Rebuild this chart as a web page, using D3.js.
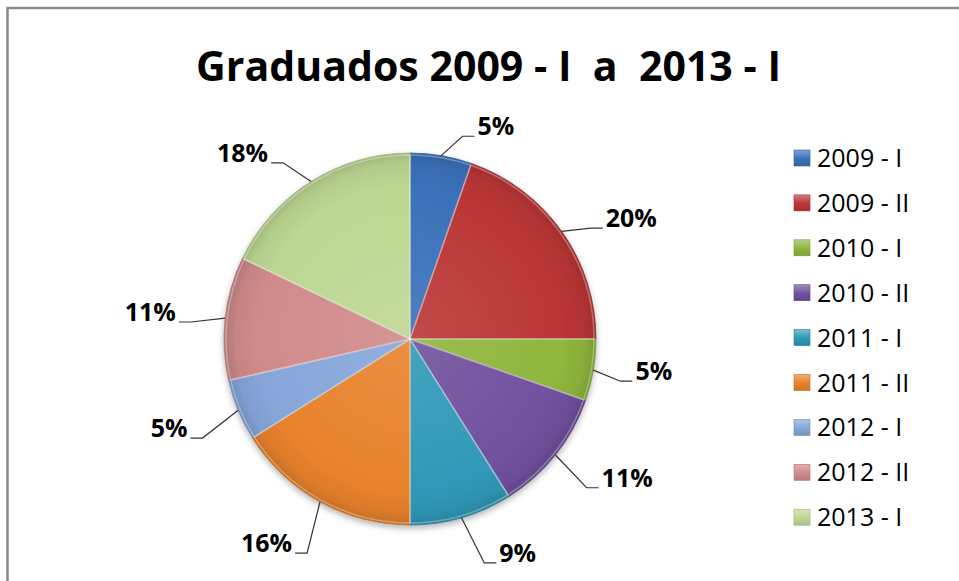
<!DOCTYPE html>
<html>
<head>
<meta charset="utf-8">
<script src="https://cdn.jsdelivr.net/npm/d3@7"></script>
<style>
  html, body { margin: 0; padding: 0; background: #fff; }
  svg { display: block; }
</style>
</head>
<body>
<svg id="chart" width="959" height="581"></svg>
<script>
// ---- data ----
const categories = ["2009 - I", "2009 - II", "2010 - I", "2010 - II", "2011 - I", "2011 - II", "2012 - I", "2012 - II", "2013 - I"];
const values = [3, 11, 3, 6, 5, 9, 3, 6, 10];
const colors = ["#3b71ba", "#bb3636", "#8fb63d", "#71509d", "#3099b8", "#e8822c", "#86a6da", "#d08a8a", "#bdd792"];
const titleText = "Graduados 2009 - I  a  2013 - I";

// ---- layout (label placement relative to each slice's mid-angle) ----
const labelAngleNudge = [12.4, 6.8, -2, -5.9, -10.6, 6.1, 2.1, -0.6, -9.9];
const labelRadius = [229, 252, 246, 258, 240, 250, 257, 261, 250];

const W = 959, H = 581;
const cx = 410, cy = 339, R = 186;
const svg = d3.select("#chart");
const defs = svg.append("defs");

// frame
svg.append("rect").attr("x", 7.5).attr("y", 8).attr("width", W).attr("height", H)
  .attr("fill", "#fff").attr("stroke", "#8a8a8a").attr("stroke-width", 2.5);

// title
svg.append("text").attr("x", 488.5).attr("y", 81)
  .attr("text-anchor", "middle")
  .attr("font-family", "'Open Sans', sans-serif").attr("font-weight", 700)
  .attr("font-size", 42).attr("fill", "#000")
  .attr("textLength", 585).attr("lengthAdjust", "spacingAndGlyphs")
  .style("white-space", "pre")
  .text(titleText);

// filters / gradients
const shadow = defs.append("filter").attr("id", "shadow")
  .attr("color-interpolation-filters", "sRGB")
  .attr("x", "-20%").attr("y", "-20%").attr("width", "140%").attr("height", "140%");
shadow.append("feGaussianBlur").attr("in", "SourceAlpha").attr("stdDeviation", 3).attr("result", "b");
shadow.append("feOffset").attr("in", "b").attr("dy", 3).attr("result", "o");
shadow.append("feComponentTransfer").attr("in", "o").attr("result", "s")
  .append("feFuncA").attr("type", "linear").attr("slope", 0.3);
const merge = shadow.append("feMerge");
merge.append("feMergeNode").attr("in", "s");
merge.append("feMergeNode").attr("in", "SourceGraphic");

colors.forEach((c, i) => {
  const base = d3.color(c);
  // pie paths live in a group translated to the pie centre, so the gradient centre is 0,0
  const g = defs.append("radialGradient").attr("id", "g" + i)
    .attr("gradientUnits", "userSpaceOnUse")
    .attr("cx", 0).attr("cy", 0).attr("r", R);
  g.append("stop").attr("offset", "0%").attr("stop-color", d3.interpolateRgb(c, "#fff")(0.1));
  g.append("stop").attr("offset", "82%").attr("stop-color", c);
  g.append("stop").attr("offset", "94%").attr("stop-color", base.darker(0.15));
  g.append("stop").attr("offset", "100%").attr("stop-color", base.darker(0.45));
  const lg = defs.append("linearGradient").attr("id", "lg" + i)
    .attr("x1", 0).attr("y1", 0).attr("x2", 0).attr("y2", 1);
  lg.append("stop").attr("offset", "0%").attr("stop-color", d3.interpolateRgb(c, "#fff")(0.35));
  lg.append("stop").attr("offset", "55%").attr("stop-color", c);
  lg.append("stop").attr("offset", "100%").attr("stop-color", base.darker(0.35));
});

// pie
const total = d3.sum(values);
const pie = d3.pie().sort(null).value(d => d);
const arcs = pie(values);
const arc = d3.arc().innerRadius(0).outerRadius(R);

const gPie = svg.append("g").attr("transform", `translate(${cx},${cy})`);
gPie.append("g").attr("filter", "url(#shadow)")
  .selectAll("path").data(arcs).join("path")
  .attr("d", arc)
  .attr("fill", (d, i) => `url(#g${i})`)
  .attr("stroke", (d, i) => d3.color(colors[i]).darker(0.4))
  .attr("stroke-width", 0.8);
// bevel highlight along inner edges
gPie.append("g").selectAll("path").data(arcs).join("path")
  .attr("d", d3.arc().innerRadius(0).outerRadius(R - 2))
  .attr("fill", "none")
  .attr("stroke", "#fff").attr("stroke-opacity", 0.3).attr("stroke-width", 1.5);

// labels + leader lines
const gLab = svg.append("g");
arcs.forEach((d, i) => {
  const mid = (d.startAngle + d.endAngle) / 2;
  const la = mid + labelAngleNudge[i] * Math.PI / 180;
  const lx = cx + labelRadius[i] * Math.sin(la);
  const ly = cy - labelRadius[i] * Math.cos(la);
  const baseline = ly + 8.5;
  const t = gLab.append("text")
    .attr("x", lx).attr("y", baseline)
    .attr("text-anchor", "middle")
    .attr("font-family", "'Open Sans', sans-serif").attr("font-weight", 700)
    .attr("font-size", 25).attr("fill", "#000")
    .text(Math.round(d.value / total * 100) + "%");
  const w = t.node().getComputedTextLength();
  const ex = cx + R * Math.sin(mid), ey = cy - R * Math.cos(mid);
  const right = lx > cx;
  const ax = right ? lx - w / 2 - 3 : lx + w / 2 + 3;
  const ay = baseline + 1;
  const bx = right ? ax - 12 : ax + 12;
  gLab.append("path")
    .attr("d", d3.line()([[ex, ey], [bx, ay], [ax, ay]]))
    .attr("fill", "none").attr("stroke", "#333").attr("stroke-width", 1.2);
});

// legend
const legY0 = 158, legStep = 44.9;
const leg = svg.append("g");
categories.forEach((c, i) => {
  const y = legY0 + i * legStep;
  leg.append("rect").attr("x", 794).attr("y", y - 8).attr("width", 16).attr("height", 16)
    .attr("fill", `url(#lg${i})`).attr("stroke", d3.color(colors[i]).darker(0.5)).attr("stroke-width", 0.6);
  leg.append("text").attr("x", 817).attr("y", y + 9)
    .attr("font-family", "'Open Sans', sans-serif").attr("font-size", 25).attr("fill", "#000")
    .text(c);
});
</script>
</body>
</html>
